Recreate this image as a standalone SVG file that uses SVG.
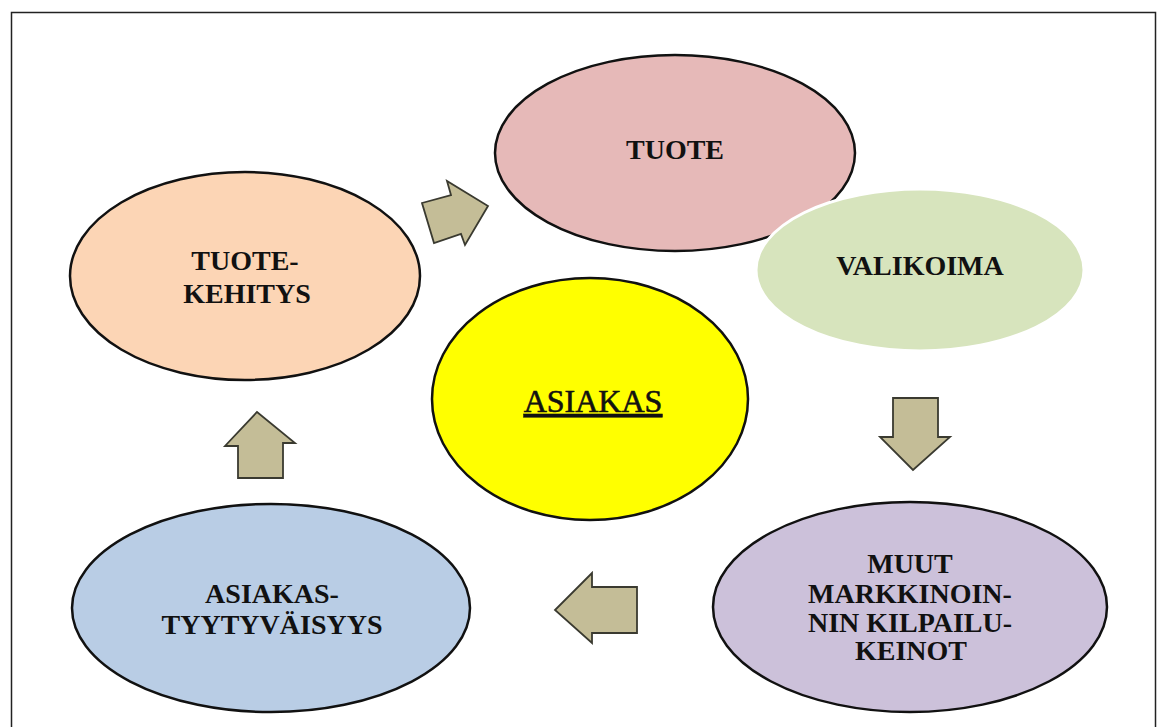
<svg xmlns="http://www.w3.org/2000/svg" width="1157" height="727" viewBox="0 0 1157 727">
  <style>
    .node { stroke: #111; stroke-width: 2.5; }
    .lbl { font-family: "Liberation Serif", "Times New Roman", serif; font-size: 28px; font-weight: bold; fill: #111; text-anchor: middle; }
    .arrow { fill: #c4bd97; stroke: #3a3a30; stroke-width: 1.8; stroke-linejoin: miter; }
  </style>
  <rect width="1157" height="727" fill="#ffffff"/>
  <!-- outer frame -->
  <rect x="11.5" y="12.5" width="1144" height="740" fill="none" stroke="#222" stroke-width="1.5"/>

  <g id="tuotekehitys">
    <ellipse class="node" cx="245" cy="276" rx="175" ry="104" fill="#fcd5b5"/>
    <text class="lbl" x="245" y="270">TUOTE-</text>
    <text class="lbl" x="247" y="303">KEHITYS</text>
  </g>

  <g id="tuote">
    <ellipse class="node" cx="675" cy="153" rx="180" ry="98" fill="#e6b9b8"/>
    <text class="lbl" x="675" y="159">TUOTE</text>
  </g>

  <g id="valikoima">
    <ellipse cx="920" cy="270" rx="164" ry="81" fill="#d7e4bd" stroke="#ffffff" stroke-width="3"/>
    <text class="lbl" x="920" y="275">VALIKOIMA</text>
  </g>

  <g id="asiakas">
    <ellipse class="node" cx="590" cy="399" rx="158" ry="121" fill="#ffff00"/>
    <text x="593" y="412" font-family="Liberation Serif, Times New Roman, serif" font-size="32" fill="#111" stroke="#111" stroke-width="0.6" text-anchor="middle" text-decoration="underline">ASIAKAS</text>
  </g>

  <g id="asiakastyytyvaisyys">
    <ellipse class="node" cx="271" cy="608" rx="199" ry="104" fill="#b9cde5"/>
    <text class="lbl" x="272" y="603">ASIAKAS-</text>
    <text class="lbl" x="272" y="634">TYYTYVÄISYYS</text>
  </g>

  <g id="muut">
    <ellipse class="node" cx="910" cy="607" rx="197" ry="105" fill="#ccc1da"/>
    <text class="lbl" x="910" y="573">MUUT</text>
    <text class="lbl" x="910" y="603">MARKKINOIN-</text>
    <text class="lbl" x="910" y="632">NIN KILPAILU-</text>
    <text class="lbl" x="911" y="660">KEINOT</text>
  </g>

  <g id="connectors">
    <!-- tuotekehitys to tuote -->
    <polygon class="arrow" points="422,203 451,195 447,181 488,206 465,245 461,234 434,243"/>
    <!-- valikoima to muut -->
    <polygon class="arrow" points="893,398 938,398 938,437 950,437 913,470 880,437 893,437"/>
    <!-- muut to asiakastyytyvaisyys -->
    <polygon class="arrow" points="637,587 637,633 592,633 592,643 555,610 592,573 592,587"/>
    <!-- asiakastyytyvaisyys to tuotekehitys -->
    <polygon class="arrow" points="238,478 283,478 283,443 295,443 257,412 225,446 238,446"/>
  </g>
</svg>
